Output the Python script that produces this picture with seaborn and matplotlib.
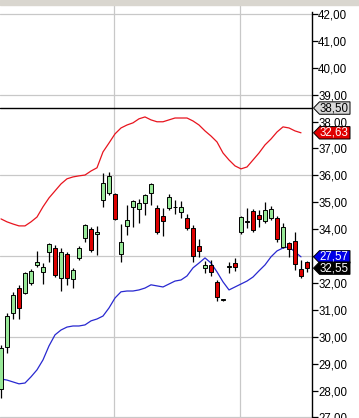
import numpy as np
import pandas as pd
import matplotlib
matplotlib.use("Agg")
import matplotlib.pyplot as plt
import matplotlib.transforms as mtransforms
from matplotlib.patches import Polygon, Rectangle
import seaborn as sns

# ---------------- data ----------------
opens = [28.06, 29.62, 30.89, 31.81, 31.63, 32.00, 32.67, 32.41, 33.15, 33.30,
         32.19, 33.08, 32.15, 32.93, 33.67, 34.00, 33.82, 35.09, 35.35, 35.31,
         33.08, 34.12, 34.83, 34.75, 34.97, 35.35, 34.79, 34.49, 34.79, 34.82,
         34.64, 34.42, 34.04, 33.38, 32.56, 32.67, 32.04, 31.37, 32.60, 32.74,
         33.90, 34.27, 34.68, 34.53, 34.30, 34.42, 34.42, 33.34, 33.49, 33.56,
         32.52, 32.78]
highs = [29.70, 30.89, 31.67, 31.93, 32.41, 32.52, 33.19, 32.74, 33.49, 33.41,
         33.30, 33.15, 32.56, 33.38, 34.20, 34.08, 34.12, 36.09, 36.13, 35.35,
         34.19, 34.90, 35.09, 35.12, 35.31, 35.72, 34.90, 34.79, 35.31, 35.09,
         35.05, 34.57, 34.16, 33.64, 32.82, 32.85, 32.11, 31.40, 32.78, 32.93,
         34.49, 34.79, 34.75, 34.71, 35.01, 34.86, 34.49, 34.23, 33.52, 33.90,
         32.85, 32.82]
lows = [27.72, 29.40, 30.66, 30.66, 31.59, 31.93, 32.60, 31.96, 32.78, 32.22,
        31.70, 31.93, 31.81, 32.85, 33.52, 33.15, 33.04, 34.83, 35.27, 34.34,
        32.78, 33.78, 34.08, 34.23, 34.53, 34.90, 33.82, 33.75, 34.71, 34.57,
        34.42, 33.97, 32.78, 32.97, 32.37, 32.26, 31.33, 31.33, 32.37, 32.45,
        33.82, 34.04, 33.90, 34.08, 34.23, 34.34, 33.52, 33.30, 32.97, 32.48,
        32.19, 32.41]
closes = [29.58, 30.77, 31.55, 31.07, 32.37, 32.45, 32.78, 32.60, 33.45, 32.30,
          33.15, 32.19, 32.48, 33.30, 34.16, 33.23, 33.90, 35.72, 35.98, 34.38,
          33.52, 34.34, 35.05, 34.97, 35.27, 35.68, 33.90, 34.30, 35.20, 34.82,
          34.83, 34.04, 33.00, 33.19, 32.67, 32.41, 31.48, 31.37, 32.60, 32.60,
          34.45, 34.27, 33.97, 34.38, 34.71, 34.75, 33.64, 34.08, 33.26, 32.71,
          32.26, 32.55]

upper_band = [34.38, 34.27, 34.19, 34.12, 34.12, 34.27, 34.45, 34.83, 35.16, 35.42,
              35.68, 35.87, 35.94, 35.98, 36.01, 36.16, 36.28, 36.87, 37.20, 37.54,
              37.76, 37.87, 37.95, 38.10, 38.17, 38.06, 37.99, 37.99, 38.06, 38.13,
              38.13, 38.13, 38.02, 37.87, 37.65, 37.46, 37.24, 36.83, 36.57, 36.35,
              36.24, 36.31, 36.57, 36.83, 37.13, 37.35, 37.61, 37.80, 37.76, 37.65,
              37.58]
lower_band = [28.43, 28.39, 28.32, 28.25, 28.28, 28.51, 28.77, 29.14, 29.66, 30.07,
              30.25, 30.36, 30.40, 30.40, 30.44, 30.59, 30.66, 30.77, 31.07, 31.44,
              31.67, 31.70, 31.70, 31.74, 31.81, 31.93, 31.89, 31.85, 31.96, 32.07,
              32.11, 32.26, 32.56, 32.74, 32.93, 32.74, 32.41, 32.04, 31.74, 31.85,
              31.96, 32.07, 32.22, 32.45, 32.67, 32.97, 33.19, 33.30, 33.34, 33.15,
              32.97]

y_ticks = list(range(27, 43))
tick_labels = [f"{v},00" for v in y_ticks]
grid_levels = [27, 30, 33, 36, 39, 42]
month_breaks = [18.85, 39.8]
ref_level = 38.50
tag_texts = ["38,50", "32,63", "27,57", "32,55"]

# ---------------- style ----------------
sns.set_style("white")
plt.rcParams['font.family'] = ['Liberation Sans', 'DejaVu Sans']

W, H = 359, 418
fig = plt.figure(figsize=(W / 100, H / 100), dpi=100)
fig.patch.set_facecolor("white")
ax_w_px, ax_h_px = 312, 413
ax = fig.add_axes([0, 0, ax_w_px / W, ax_h_px / H])
ax.set_facecolor("white")

ylim = (26.98, 42.33)
xlim = (-1 / 6, 51.833)
ax.set_xlim(*xlim)
ax.set_ylim(*ylim)
px_per_unit = ax_h_px / (ylim[1] - ylim[0])

# grid
for g in grid_levels:
    ax.axhline(g, color="#c8c8c8", lw=0.9, zorder=0)
for m in month_breaks:
    ax.axvline(m, color="#c8c8c8", lw=0.9, zorder=0)

ax.axhline(ref_level, color="black", lw=1.0, zorder=1)

# bands
idx = np.arange(len(closes))
bands = pd.DataFrame({"i": idx[:len(upper_band)], "upper": upper_band, "lower": lower_band})
sns.lineplot(data=bands, x="i", y="upper", color="#e8141e", lw=0.9, ax=ax, zorder=2)
sns.lineplot(data=bands, x="i", y="lower", color="#2828d0", lw=0.9, ax=ax, zorder=2)

# candles
o = np.array(opens); c = np.array(closes)
ax.vlines(idx, lows, highs, color="black", lw=0.9, zorder=3)
heights = np.abs(c - o)
bottoms = np.minimum(o, c)
heights = np.where(heights < 0.015, 0.015, heights)
colors = ["#98e898" if cc >= oo else "#dc0000" for oo, cc in zip(o, c)]
ax.bar(idx, heights, bottom=bottoms, width=0.72, color=colors,
       edgecolor="black", linewidth=0.7, zorder=4)

# axes / ticks
for s in ["top", "left", "bottom"]:
    ax.spines[s].set_visible(False)
ax.spines["right"].set_visible(True)
ax.spines["right"].set_color("black")
ax.spines["right"].set_linewidth(1.0)
ax.spines["right"].set_bounds(ylim[0], 42.08)
ax.set_xticks([])
ax.yaxis.tick_right()
ax.set_yticks(y_ticks)
ax.set_yticklabels(tick_labels)
ax.tick_params(axis="y", direction="out", length=4, width=0.9, pad=0.5,
               labelsize=8.3, colors="black", right=True, left=False)
ax.set_xlabel(""); ax.set_ylabel("")

# top band
fig.patches.append(Rectangle((0, ax_h_px / H), 1, 1 - ax_h_px / H,
                             transform=fig.transFigure, color="#d9d6cf", zorder=0))

# price tags
trans = mtransforms.blended_transform_factory(ax.transAxes, ax.transData)
tag_values = [ref_level, upper_band[-1], lower_band[-1], closes[-1]]
tag_faces = ["#d8d8d8", "#e00000", "#0000e8", "#000000"]
tag_text_colors = ["black", "white", "white", "white"]
half = 6.2 / px_per_unit
x_tip = 313.5 / ax_w_px
x_sh = 319.5 / ax_w_px
x_end = 350 / ax_w_px
for txt, val, fc, tc in zip(tag_texts, tag_values, tag_faces, tag_text_colors):
    poly = Polygon([[x_tip, val], [x_sh, val + half], [x_end, val + half],
                    [x_end, val - half], [x_sh, val - half]], closed=True,
                   transform=trans, facecolor=fc, edgecolor="black", lw=0.7,
                   clip_on=False, zorder=10)
    ax.add_patch(poly)
    ax.text(334 / ax_w_px, val, txt, transform=trans, ha="center", va="center",
            fontsize=8.3, color=tc, clip_on=False, zorder=11)

fig.savefig("out.png", dpi=100)
